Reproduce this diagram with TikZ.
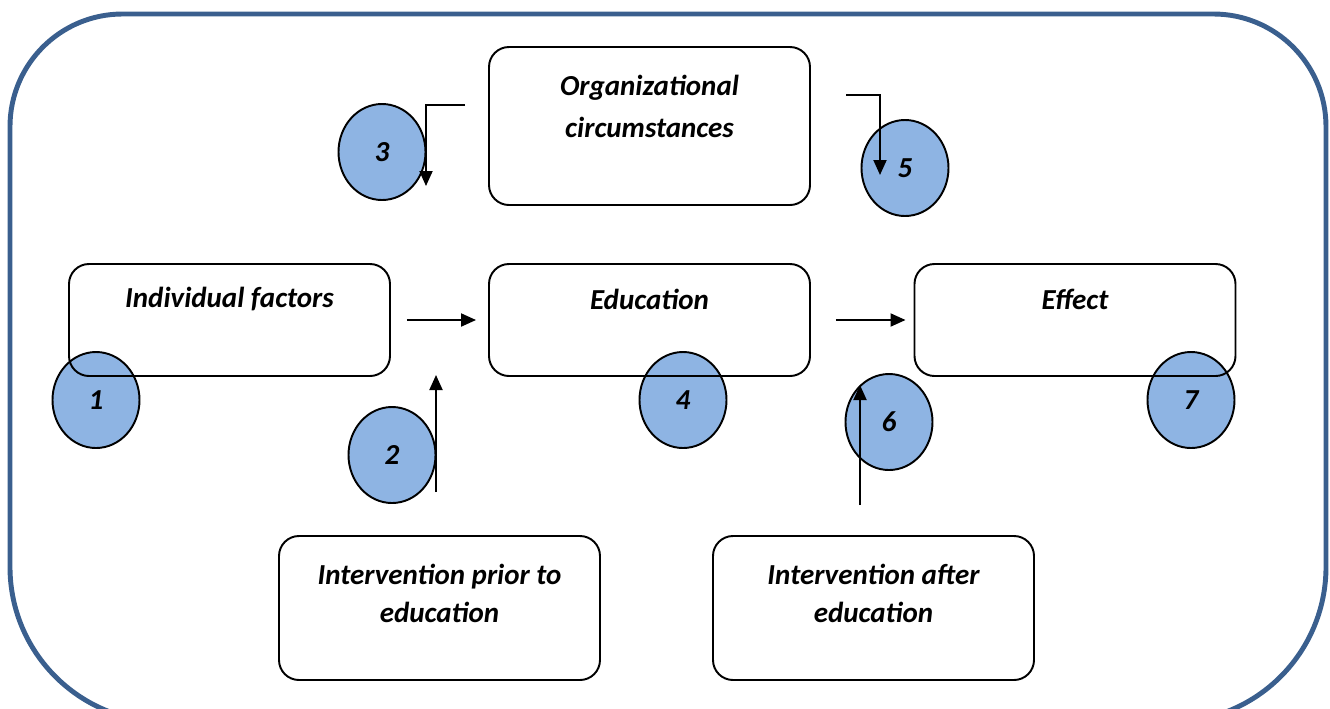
\documentclass[tikz,border=0pt]{standalone}
\usepackage{fontspec}
\setmainfont{Carlito}
\usepackage{tikz}
\usetikzlibrary{shapes.geometric,arrows.meta,positioning}
\definecolor{framecolor}{HTML}{3A5F8E}
\definecolor{bubblecolor}{HTML}{8EB4E3}
\newcommand{\linew}{1.1pt}
\newcommand{\boxw}{6.42cm}

\tikzset{
  box/.style={draw, line width=\linew, rounded corners=0.4cm, minimum width=\boxw},
  txt/.style={inner sep=0pt, align=center, font=\fontsize{16.5}{22}\selectfont\bfseries\itshape},
  bubble/.style={ellipse, draw, fill=bubblecolor, line width=\linew, minimum width=1.74cm, minimum height=1.92cm, inner sep=0pt, font=\fontsize{16.5}{18}\selectfont\bfseries\itshape},
  arr/.style={-{Triangle[length=0.3cm,width=0.26cm]}, line width=\linew}
}

\begin{document}
\begin{tikzpicture}
\useasboundingbox (0,0) rectangle (26.6,-14.16);
\draw[framecolor, line width=2.8pt] (0.2,-7) [rounded corners=2.25cm] -- (0.2,-0.28) -- (26.52,-0.28) -- (26.52,-7)
  [rounded corners=3.1cm] -- (26.52,-14.44) -- (0.2,-14.44) -- cycle;
%bubbles
\node[bubble] (1) at (1.92,-8.0) {1};
\node[bubble] (2) at (7.84,-9.1) {2};
\node[bubble] (3) at (7.64,-3.04) {3};
\node[bubble] (4) at (13.66,-8.0) {4};
\node[bubble] (5) at (18.1,-3.36) {5};
\node[bubble] (6) at (17.78,-8.44) {6};
\node[bubble] (7) at (23.82,-8.0) {7};
%boxes
\node[box, minimum height=3.16cm] (org) at (12.99,-2.52) {};
\node[box, minimum height=2.24cm] (indiv) at (4.59,-6.4) {};
\node[box, minimum height=2.24cm] (edu) at (12.99,-6.4) {};
\node[box, minimum height=2.24cm] (effect) at (21.5,-6.4) {};
\node[box, minimum height=2.88cm] (prior) at (8.79,-12.16) {};
\node[box, minimum height=2.88cm] (after) at (17.47,-12.16) {};
%texts
\node[txt, font=\fontsize{16.5}{24}\selectfont\bfseries\itshape, below=0.58cm of org.north] (orgtxt) {Organizational\\circumstances};
\node[txt, below=0.48cm of indiv.north] (indivtxt) {Individual factors};
\node[txt, below=0.52cm of edu.north] (edutxt) {Education};
\node[txt, below=0.52cm of effect.north] (effecttxt) {Effect};
\node[txt, below=0.57cm of prior.north] (priortxt) {Intervention prior to\\education};
\node[txt, below=0.57cm of after.north] (aftertxt) {Intervention after\\education};
%arrows
\coordinate (a3) at (9.3,-2.1);
\coordinate (b3) at (8.52,-3.72);
\coordinate (a5) at (16.92,-1.9);
\coordinate (b5) at (17.6,-3.5);
\coordinate (a2) at (8.72,-9.84);
\coordinate (b2) at (8.72,-7.5);
\coordinate (a6) at (17.2,-10.1);
\coordinate (b6) at (17.2,-7.7);
\draw[arr] (a3) -| (b3);
\draw[arr] (a5) -| (b5);
\draw[arr] (a2) -- (b2);
\draw[arr] (a6) -- (b6);
\draw[arr, shorten <=0.32cm, shorten >=0.24cm] (indiv.east) -- (edu.west);
\draw[arr, shorten <=0.5cm, shorten >=0.16cm] (edu.east) -- (effect.west);
\end{tikzpicture}
\end{document}
